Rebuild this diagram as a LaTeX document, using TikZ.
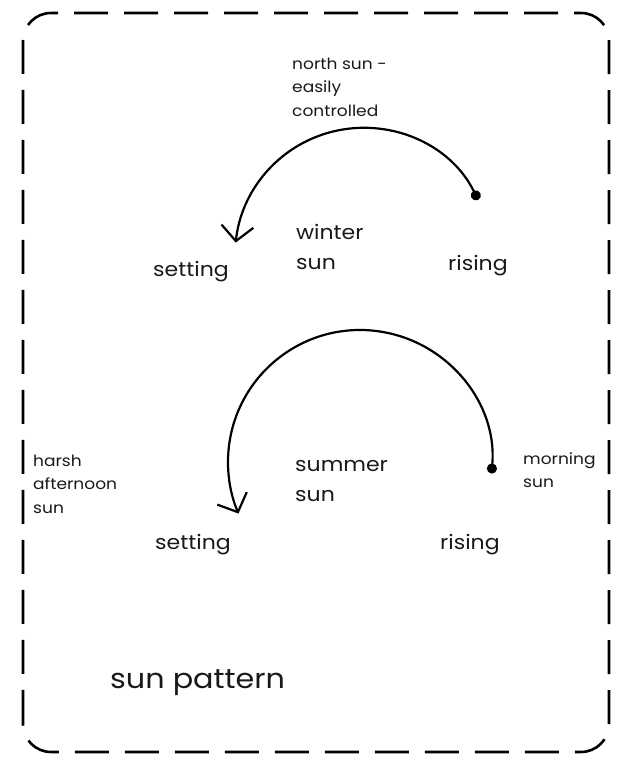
\documentclass[tikz,border=0pt]{standalone}
\usepackage{fontspec}
\setmainfont{Poppins}[FakeStretch=1.1]
\usetikzlibrary{arrows.meta}
\begin{document}
\begin{tikzpicture}[x=1pt,y=1pt,
  lbl/.style={anchor=west,inner sep=0pt,align=left,text=black!90},
  small/.style={lbl,font=\fontsize{15.5}{23.5}\selectfont},
  mid/.style={lbl,font=\fontsize{20}{30}\selectfont},
  big/.style={lbl,font=\fontsize{27.5}{30}\selectfont},
  sunpath/.style={line width=2.2pt,{Circle[length=10pt]}-{Straight Barb[length=15pt,width=32pt,line width=2.2pt]}},
  frame/.style={line width=2.6pt,dash pattern=on 34pt off 16pt,rounded corners=28pt}]
\useasboundingbox (0,0) rectangle (620,764);
\draw[frame] (23,12) rectangle (609,751);
% winter
\node[small] (north) at (292,677) {north sun -\\easily\\controlled};
\node[mid] (winter) at (296,517) {winter\\sun};
\node[mid] (wset) at (153,492) {setting};
\node[mid] (wrise) at (448,498) {rising};
\coordinate (wc) at (363,508);
\coordinate (wstart) at ([shift={(26:128)}]wc);
\draw[sunpath] (wstart) arc[start angle=26,end angle=174,radius=128];
% summer
\node[small] (harsh) at (33,280) {harsh\\afternoon\\sun};
\node[small] (morning) at (523,294) {morning\\sun};
\node[mid] (summer) at (295,283) {summer\\sun};
\node[mid] (sset) at (155,219) {setting};
\node[mid] (srise) at (440,219) {rising};
\coordinate (sc) at (360,302);
\coordinate (sstart) at ([shift={(-5:132)}]sc);
\draw[sunpath] (sstart) arc[start angle=-5,end angle=203,radius=132];
\node[big] (title) at (110,81) {sun pattern};
\end{tikzpicture}
\end{document}
